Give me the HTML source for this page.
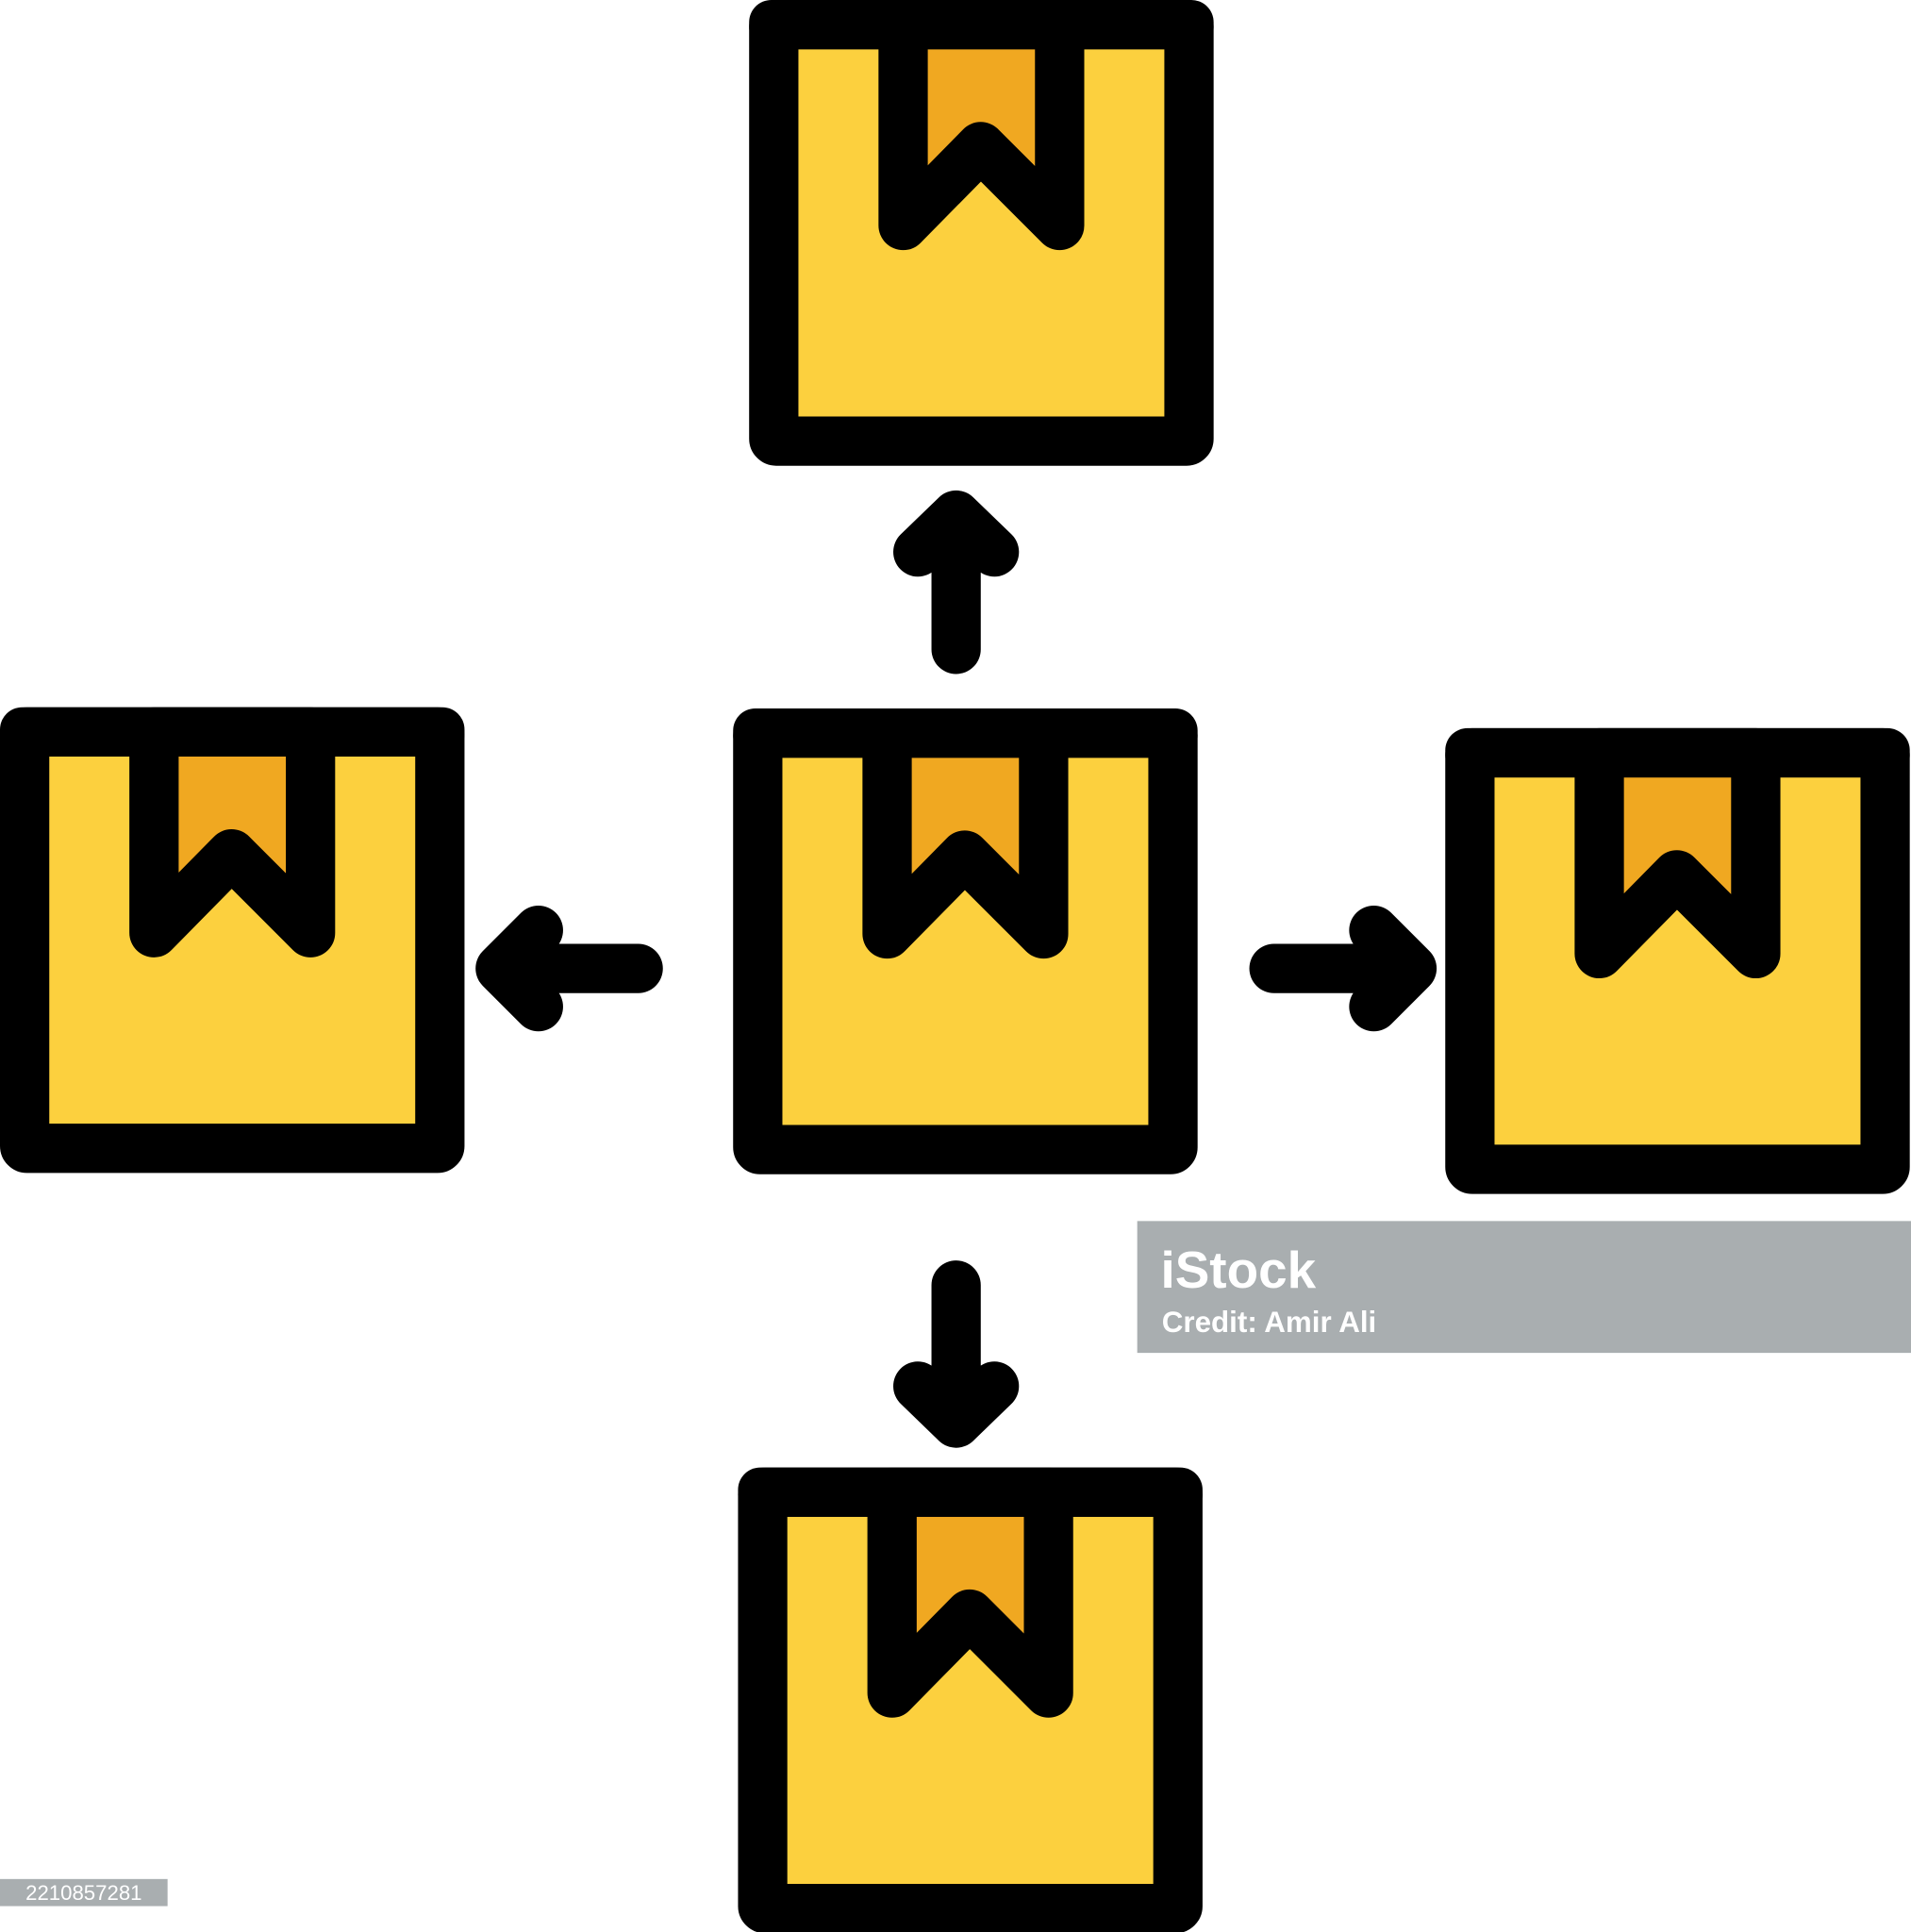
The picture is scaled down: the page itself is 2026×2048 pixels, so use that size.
<!DOCTYPE html>
<html><head><meta charset="utf-8"><style>
html,body{margin:0;padding:0;background:#fff;}
svg{display:block;}
</style></head><body>
<svg width="2026" height="2048" viewBox="0 0 1551 1568" preserveAspectRatio="none" xmlns="http://www.w3.org/2000/svg">
<defs>
<g id="box">
<rect x="20" y="20" width="337" height="338" rx="2" fill="#fcd03e" stroke="#000" stroke-width="40" stroke-linejoin="round"/>
<path d="M125,20 V183 L188,119 L252,183 V20 Z" fill="#f0a821" stroke="#000" stroke-width="40" stroke-linejoin="round"/>
<rect x="0" y="0" width="377" height="40" rx="18" fill="#000"/>
</g>
</defs>
<rect width="1551" height="1568" fill="#fff"/>
<use href="#box" x="608" y="0"/>
<use href="#box" x="0" y="574"/>
<use href="#box" x="595" y="575"/>
<use href="#box" x="1173" y="591"/>
<use href="#box" x="599" y="1191"/>
<g fill="none" stroke="#000" stroke-width="40" stroke-linecap="round" stroke-linejoin="round">
<path d="M776,527 V430 M745,448 L776,418 L807,448"/>
<path d="M518,786 H420 M437,755 L406,786 L437,817"/>
<path d="M1034,786 H1132 M1115,755 L1146,786 L1115,817"/>
<path d="M776,1043 V1140 M745,1125 L776,1155 L807,1125"/>
</g>
<rect x="923" y="991" width="628" height="107" fill="#a9aeb0"/>
<text x="942" y="1045" font-family="Liberation Sans, sans-serif" font-weight="bold" font-size="42" fill="#fff">iStock</text>
<text x="943" y="1081" font-family="Liberation Sans, sans-serif" font-weight="bold" font-size="24" fill="#fff">Credit: Amir Ali</text>
<rect x="0" y="1525" width="136" height="22" fill="#a9aeb0"/>
<text x="68" y="1542" text-anchor="middle" font-family="Liberation Sans, sans-serif" font-size="17" fill="#fff">2210857281</text>
</svg>
</body></html>
